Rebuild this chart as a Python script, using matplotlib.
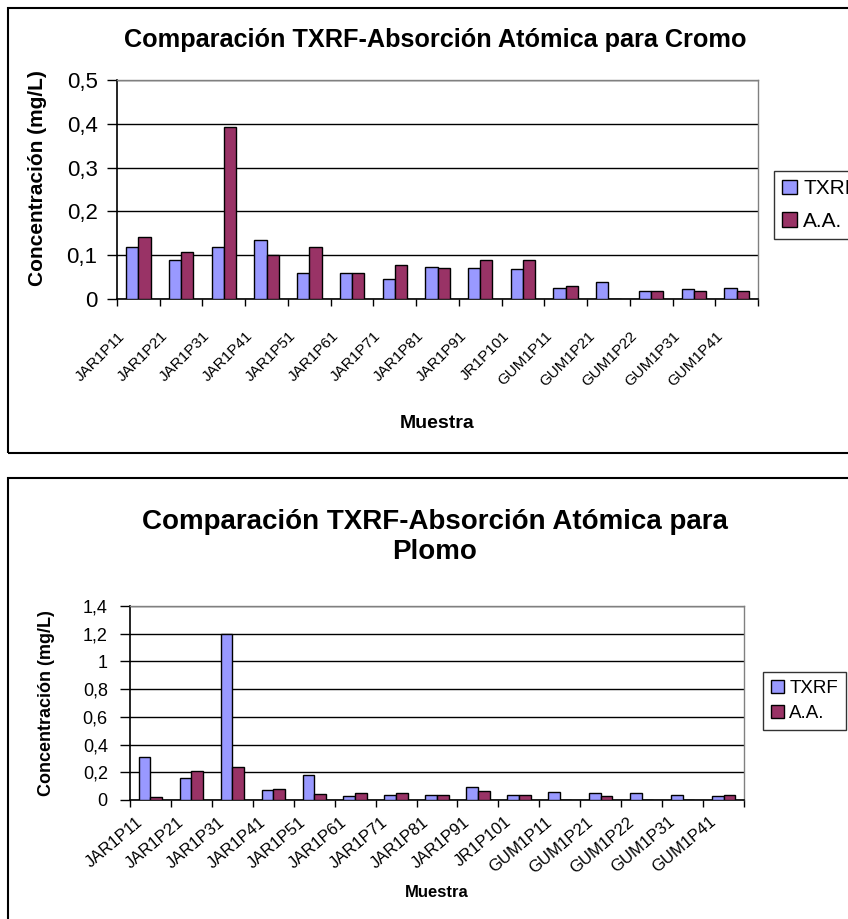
import matplotlib.pyplot as plt
import matplotlib.ticker as mticker
from matplotlib.patches import Rectangle
from matplotlib.transforms import ScaledTranslation
import numpy as np

plt.rcParams['font.family'] = ['Liberation Sans', 'DejaVu Sans']

muestras = ["JAR1P11", "JAR1P21", "JAR1P31", "JAR1P41", "JAR1P51", "JAR1P61",
            "JAR1P71", "JAR1P81", "JAR1P91", "JR1P101", "GUM1P11", "GUM1P21",
            "GUM1P22", "GUM1P31", "GUM1P41"]

cromo_txrf = [0.119, 0.089, 0.119, 0.134, 0.060, 0.060, 0.045, 0.074, 0.071,
              0.068, 0.026, 0.038, 0.018, 0.022, 0.026]
cromo_aa = [0.142, 0.108, 0.392, 0.101, 0.119, 0.060, 0.078, 0.071, 0.089,
            0.089, 0.030, 0.0, 0.018, 0.018, 0.018]

plomo_txrf = [0.312, 0.158, 1.20, 0.070, 0.180, 0.029, 0.038, 0.038, 0.091,
              0.038, 0.060, 0.050, 0.050, 0.038, 0.029]
plomo_aa = [0.019, 0.211, 0.240, 0.079, 0.041, 0.050, 0.050, 0.038, 0.062,
            0.038, 0.0, 0.029, 0.0, 0.0, 0.038]

C_TXRF = "#9999FF"
C_AA = "#993366"

W, H = 848, 919
fig = plt.figure(figsize=(W / 100, H / 100), dpi=100)


def px_axes(x0, y0, x1, y1):
    # pixel box (top-left origin) -> figure axes
    return fig.add_axes([x0 / W, 1 - y1 / H, (x1 - x0) / W, (y1 - y0) / H])


def comma_fmt(v, pos):
    s = ("%.1f" % v).rstrip("0").rstrip(".")
    return s.replace(".", ",")


def draw_chart(ax, txrf, aa, ymax, ystep, tick_fs, ypad, xtick_fs, rot, shift):
    x = np.arange(len(muestras))
    bw = 1 / 3.5
    ax.bar(x - bw / 2, txrf, bw, color=C_TXRF, edgecolor="black", linewidth=1.0,
           label="TXRF", zorder=3)
    ax.bar(x + bw / 2, aa, bw, color=C_AA, edgecolor="black", linewidth=1.0,
           label="A.A.", zorder=3)
    ax.set_xlim(-0.5, len(muestras) - 0.5)
    ax.set_ylim(0, ymax)
    ax.yaxis.set_major_locator(mticker.MultipleLocator(ystep))
    ax.yaxis.set_major_formatter(mticker.FuncFormatter(comma_fmt))
    ax.grid(axis="y", color="black", linewidth=1.0, zorder=0)
    # tick marks between categories, names under each group
    ax.set_xticks(np.arange(len(muestras) + 1) - 0.5)
    ax.set_xticklabels([])
    off = ScaledTranslation(shift[0] / 100, shift[1] / 100, fig.dpi_scale_trans)
    for i, name in enumerate(muestras):
        ax.text(i, 0, name, transform=ax.get_xaxis_transform() + off,
                rotation=rot, ha="right", va="center", rotation_mode="anchor",
                fontsize=xtick_fs)
    ax.tick_params(axis="x", direction="out", length=5, width=1)
    ax.tick_params(axis="y", direction="out", length=7, width=1,
                   labelsize=tick_fs, pad=ypad)
    for side in ["left", "bottom"]:
        ax.spines[side].set_color("black")
        ax.spines[side].set_linewidth(1.2)
    for side in ["top", "right"]:
        ax.spines[side].set_color("#808080")
        ax.spines[side].set_linewidth(1.0)


def add_legend(ax, x0, y0, fs, spacing):
    leg = ax.legend(loc="upper left", bbox_to_anchor=(x0 / W, 1 - y0 / H),
                    bbox_transform=fig.transFigure, fontsize=fs, frameon=True,
                    fancybox=False, edgecolor="black", handlelength=0.7,
                    handleheight=0.7, handletextpad=0.3, borderpad=0.4,
                    labelspacing=spacing, borderaxespad=0)
    leg.get_frame().set_linewidth(1.0)


# Cromo
ax1 = px_axes(117, 80, 758, 299)
draw_chart(ax1, cromo_txrf, cromo_aa, 0.5, 0.1, 16, 7, 11, 45, (-16, -35))
ax1.set_ylabel("Concentración (mg/L)", fontsize=15, fontweight="bold")
ax1.yaxis.set_label_coords((47 - 117) / 641, (299 - 178) / 219)
ax1.set_xlabel("Muestra", fontsize=14, fontweight="bold")
ax1.xaxis.set_label_coords(0.5, -(415 - 299) / 219)
fig.text(435 / W, 1 - 40 / H, "Comparación TXRF-Absorción Atómica para Cromo",
         ha="center", va="center", fontsize=18.2, fontweight="bold")
add_legend(ax1, 774, 171, 15, 0.65)

# Plomo
ax2 = px_axes(130, 606, 744, 800)
draw_chart(ax2, plomo_txrf, plomo_aa, 1.4, 0.2, 13, 9, 12, 40, (-10, -20))
ax2.set_ylabel("Concentración (mg/L)", fontsize=13, fontweight="bold")
ax2.yaxis.set_label_coords((55 - 130) / 614, 0.5)
ax2.set_xlabel("Muestra", fontsize=12, fontweight="bold")
ax2.xaxis.set_label_coords(0.5, -(885 - 800) / 194)
fig.text(435 / W, 1 - 537 / H, "Comparación TXRF-Absorción Atómica para\nPlomo",
         ha="center", va="center", fontsize=20, fontweight="bold",
         linespacing=1.2)
add_legend(ax2, 763, 672, 13.5, 0.45)

# chart area frames
for y0, y1 in [(8, 453), (478, 930)]:
    fig.patches.append(Rectangle((8 / W, 1 - y1 / H), 900 / W, (y1 - y0) / H,
                                 transform=fig.transFigure, fill=False,
                                 edgecolor="black", linewidth=1.5))

fig.savefig("out.png", dpi=100)
